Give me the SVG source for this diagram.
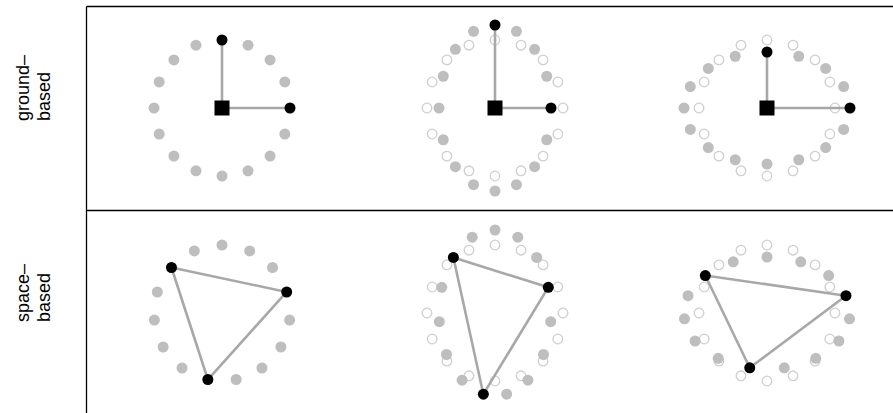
<svg xmlns="http://www.w3.org/2000/svg" xmlns:xlink="http://www.w3.org/1999/xlink" width="893" height="413" viewBox="0 0 893 413">
<style>
.frame{stroke:#000;stroke-width:1.3;fill:none}
.g{fill:#bebebe}
.h{fill:none;stroke:#cfcfcf;stroke-width:1.3}
.b{fill:#000}
.ln{stroke:#a8a8a8;stroke-width:2.6;fill:none;stroke-linejoin:round}
.lbl{font-family:"Liberation Sans",Arial,sans-serif;font-size:18px;fill:#000}
</style>
<defs>
<g id="hring" class="h">
<circle cx="0" cy="-68" r="4.8"/><circle cx="26.02" cy="-62.82" r="4.8"/><circle cx="48.08" cy="-48.08" r="4.8"/><circle cx="62.82" cy="-26.02" r="4.8"/>
<circle cx="68" cy="0" r="4.8"/><circle cx="62.82" cy="26.02" r="4.8"/><circle cx="48.08" cy="48.08" r="4.8"/><circle cx="26.02" cy="62.82" r="4.8"/>
<circle cx="0" cy="68" r="4.8"/><circle cx="-26.02" cy="62.82" r="4.8"/><circle cx="-48.08" cy="48.08" r="4.8"/><circle cx="-62.82" cy="26.02" r="4.8"/>
<circle cx="-68" cy="0" r="4.8"/><circle cx="-62.82" cy="-26.02" r="4.8"/><circle cx="-48.08" cy="-48.08" r="4.8"/><circle cx="-26.02" cy="-62.82" r="4.8"/>
</g>
</defs>
<g id="frame" class="frame">
<line x1="86.5" y1="6.5" x2="893" y2="6.5"/>
<line x1="86.5" y1="210.5" x2="893" y2="210.5"/>
<line x1="86.5" y1="6.5" x2="86.5" y2="413"/>
</g>
<g id="labels" class="lbl">
<text transform="translate(29,121) rotate(-90)">ground–</text>
<text transform="translate(50,121) rotate(-90)">based</text>
<text transform="translate(29,322) rotate(-90)">space–</text>
<text transform="translate(50,322) rotate(-90)">based</text>
</g>
<g id="hollow-rings">
<use xlink:href="#hring" x="495" y="108"/>
<use xlink:href="#hring" x="767" y="108"/>
<use xlink:href="#hring" x="495" y="313"/>
<use xlink:href="#hring" x="767" y="313"/>
</g>
<g id="ground-rest" class="g">
<circle cx="248.02" cy="45.18" r="5.5"/><circle cx="270.08" cy="59.92" r="5.5"/><circle cx="284.82" cy="81.98" r="5.5"/>
<circle cx="284.82" cy="134.02" r="5.5"/><circle cx="270.08" cy="156.08" r="5.5"/><circle cx="248.02" cy="170.82" r="5.5"/>
<circle cx="222" cy="176" r="5.5"/><circle cx="195.98" cy="170.82" r="5.5"/><circle cx="173.92" cy="156.08" r="5.5"/>
<circle cx="159.18" cy="134.02" r="5.5"/><circle cx="154" cy="108" r="5.5"/><circle cx="159.18" cy="81.98" r="5.5"/>
<circle cx="173.92" cy="59.92" r="5.5"/><circle cx="195.98" cy="45.18" r="5.5"/>
</g>
<g id="ground-stretch-v" class="g">
<circle cx="516.43" cy="31.32" r="5.5"/><circle cx="534.6" cy="49.31" r="5.5"/><circle cx="546.74" cy="76.24" r="5.5"/>
<circle cx="546.74" cy="139.76" r="5.5"/><circle cx="534.6" cy="166.69" r="5.5"/><circle cx="516.43" cy="184.68" r="5.5"/>
<circle cx="495" cy="191" r="5.5"/><circle cx="473.57" cy="184.68" r="5.5"/><circle cx="455.4" cy="166.69" r="5.5"/>
<circle cx="443.26" cy="139.76" r="5.5"/><circle cx="439" cy="108" r="5.5"/><circle cx="443.26" cy="76.24" r="5.5"/>
<circle cx="455.4" cy="49.31" r="5.5"/><circle cx="473.57" cy="31.32" r="5.5"/>
</g>
<g id="ground-stretch-h" class="g">
<circle cx="798.76" cy="56.26" r="5.5"/><circle cx="825.69" cy="68.4" r="5.5"/><circle cx="843.68" cy="86.57" r="5.5"/>
<circle cx="843.68" cy="129.43" r="5.5"/><circle cx="825.69" cy="147.6" r="5.5"/><circle cx="798.76" cy="159.74" r="5.5"/>
<circle cx="767" cy="164" r="5.5"/><circle cx="735.24" cy="159.74" r="5.5"/><circle cx="708.31" cy="147.6" r="5.5"/>
<circle cx="690.32" cy="129.43" r="5.5"/><circle cx="684" cy="108" r="5.5"/><circle cx="690.32" cy="86.57" r="5.5"/>
<circle cx="708.31" cy="68.4" r="5.5"/><circle cx="735.24" cy="56.26" r="5.5"/>
</g>
<g id="space-rest" class="g">
<circle cx="222" cy="245" r="5.5"/><circle cx="249.66" cy="250.88" r="5.5"/><circle cx="272.53" cy="267.5" r="5.5"/>
<circle cx="289.63" cy="320.11" r="5.5"/><circle cx="280.89" cy="347" r="5.5"/><circle cx="261.97" cy="368.01" r="5.5"/>
<circle cx="236.14" cy="379.51" r="5.5"/><circle cx="182.03" cy="368.01" r="5.5"/><circle cx="163.11" cy="347" r="5.5"/>
<circle cx="154.37" cy="320.11" r="5.5"/><circle cx="157.33" cy="291.99" r="5.5"/><circle cx="194.34" cy="250.88" r="5.5"/>
</g>
<g id="space-stretch-v" class="g">
<circle cx="495" cy="230" r="5.5"/><circle cx="517.78" cy="237.18" r="5.5"/><circle cx="536.62" cy="257.46" r="5.5"/>
<circle cx="550.69" cy="321.68" r="5.5"/><circle cx="543.5" cy="354.5" r="5.5"/><circle cx="527.92" cy="380.15" r="5.5"/>
<circle cx="506.64" cy="394.19" r="5.5"/><circle cx="462.08" cy="380.15" r="5.5"/><circle cx="446.5" cy="354.5" r="5.5"/>
<circle cx="439.31" cy="321.68" r="5.5"/><circle cx="441.74" cy="287.35" r="5.5"/><circle cx="472.22" cy="237.18" r="5.5"/>
</g>
<g id="space-stretch-h" class="g">
<circle cx="767" cy="257" r="5.5"/><circle cx="800.76" cy="261.84" r="5.5"/><circle cx="828.68" cy="275.53" r="5.5"/>
<circle cx="849.55" cy="318.85" r="5.5"/><circle cx="838.88" cy="341" r="5.5"/><circle cx="815.79" cy="358.31" r="5.5"/>
<circle cx="784.26" cy="367.78" r="5.5"/><circle cx="718.21" cy="358.31" r="5.5"/><circle cx="695.12" cy="341" r="5.5"/>
<circle cx="684.45" cy="318.85" r="5.5"/><circle cx="688.06" cy="295.69" r="5.5"/><circle cx="733.24" cy="261.84" r="5.5"/>
</g>
<g id="connectors" class="ln">
<polyline points="222,40 222,108 290,108"/>
<polyline points="495,25 495,108 551,108"/>
<polyline points="767,52 767,108 850,108"/>
<polygon points="286.67,291.99 207.86,379.51 171.47,267.5"/>
<polygon points="548.26,287.35 483.36,394.19 453.38,257.46"/>
<polygon points="845.94,295.69 749.74,367.78 705.32,275.53"/>
</g>
<g id="detectors" class="b">
<rect x="214.5" y="100.5" width="15" height="15"/>
<circle cx="222" cy="40" r="5.5"/><circle cx="290" cy="108" r="5.5"/>
<rect x="487.5" y="100.5" width="15" height="15"/>
<circle cx="495" cy="25" r="5.5"/><circle cx="551" cy="108" r="5.5"/>
<rect x="759.5" y="100.5" width="15" height="15"/>
<circle cx="767" cy="52" r="5.5"/><circle cx="850" cy="108" r="5.5"/>
<circle cx="286.67" cy="291.99" r="5.5"/><circle cx="207.86" cy="379.51" r="5.5"/><circle cx="171.47" cy="267.5" r="5.5"/>
<circle cx="548.26" cy="287.35" r="5.5"/><circle cx="483.36" cy="394.19" r="5.5"/><circle cx="453.38" cy="257.46" r="5.5"/>
<circle cx="845.94" cy="295.69" r="5.5"/><circle cx="749.74" cy="367.78" r="5.5"/><circle cx="705.32" cy="275.53" r="5.5"/>
</g>
</svg>
